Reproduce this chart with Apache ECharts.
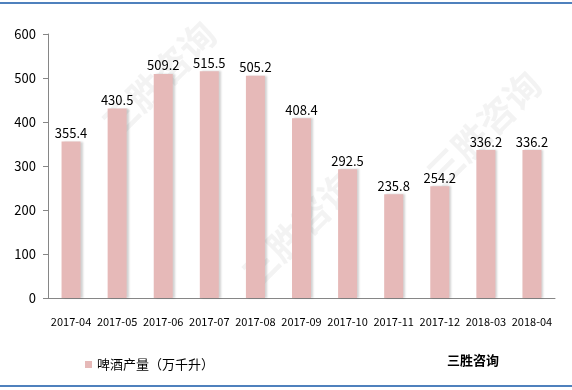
<!DOCTYPE html>
<html><head><meta charset="utf-8">
<script src="https://cdn.jsdelivr.net/npm/echarts@6/dist/echarts.min.js"></script>
<style>
html,body{margin:0;padding:0;background:#fff;}
#c{width:572px;height:390px;position:relative;}
#c:before{content:"";position:absolute;left:0;right:0;top:2px;height:2px;background:#4f81bd;z-index:5;}
#c:after{content:"";position:absolute;left:0;right:0;top:385px;height:2px;background:#4f81bd;z-index:5;}
</style></head>
<body><div id="c"></div>
<script>
const categories = ['2017-04','2017-05','2017-06','2017-07','2017-08','2017-09','2017-10','2017-11','2017-12','2018-03','2018-04'];
const production = [355.4, 430.5, 509.2, 515.5, 505.2, 408.4, 292.5, 235.8, 254.2, 336.2, 336.2];
const seriesName = '啤酒产量（万千升）';
const sourceText = '三胜咨询';
const yTicks = {min: 0, max: 600, interval: 100};

const chart = echarts.init(document.getElementById('c'), null, {renderer: 'canvas'});
const font = '"Microsoft YaHei","Noto Sans CJK SC","Liberation Sans",sans-serif';
const wm = (x, y) => ({
  type: 'text', left: x, top: y, rotation: Math.PI / 4, z: -1, silent: true,
  style: {text: sourceText, fill: 'rgba(200,200,200,0.22)', font: 'bold 36px ' + font}
});
chart.setOption({
  animation: false,
  textStyle: {fontFamily: font},
  grid: {left: 48, right: 17, top: 34, bottom: 92, containLabel: false},
  legend: {
    data: [seriesName], left: 80, top: 353, itemWidth: 7, itemHeight: 7, icon: 'rect', itemGap: 6,
    textStyle: {fontSize: 13, color: '#000', fontFamily: font}
  },
  graphic: [
    wm(95, 15), wm(235, 165), wm(420, 65),
    {type: 'text', left: 447, top: 354, style: {text: sourceText, fill: '#000', font: 'bold 13px ' + font}}
  ],
  xAxis: {
    type: 'category', data: categories,
    axisLine: {lineStyle: {color: '#868686'}},
    axisTick: {length: 5, lineStyle: {color: '#868686'}},
    axisLabel: {color: '#000', fontSize: 11, margin: 18, interval: 0}
  },
  yAxis: {
    type: 'value', min: yTicks.min, max: yTicks.max, interval: yTicks.interval,
    axisLine: {show: true, lineStyle: {color: '#868686'}},
    axisTick: {show: true, length: 5, lineStyle: {color: '#868686'}},
    splitLine: {show: false},
    axisLabel: {color: '#000', fontSize: 13, margin: 12}
  },
  series: [{
    name: seriesName, type: 'bar', data: production, barWidth: 19,
    itemStyle: {color: '#e6b9b8', shadowColor: 'rgba(0,0,0,0.18)', shadowOffsetX: 2, shadowBlur: 2},
    label: {show: true, position: 'top', color: '#000', fontSize: 13, distance: 2}
  }]
});
</script></body></html>
